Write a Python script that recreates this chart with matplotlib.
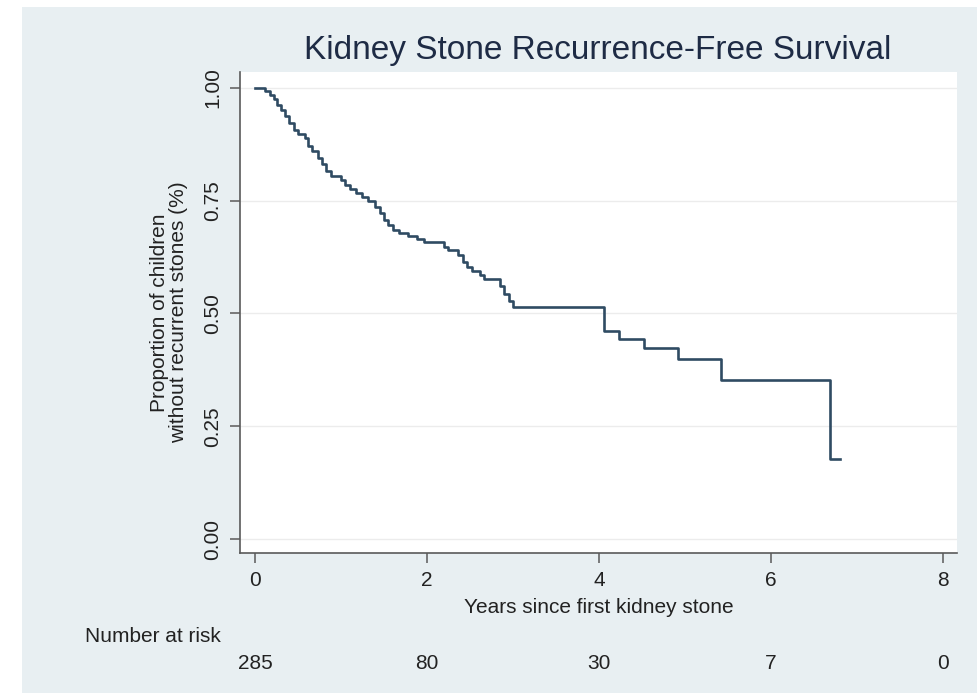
import matplotlib
matplotlib.use("Agg")
import matplotlib.pyplot as plt
from matplotlib.patches import Rectangle

# Kaplan-Meier estimate (step changes) for recurrence-free survival
years = [0.00, 0.12, 0.18, 0.22, 0.26, 0.30, 0.35, 0.40, 0.45, 0.50,
         0.58, 0.62, 0.66, 0.73, 0.78, 0.83, 0.88, 1.00, 1.05, 1.10,
         1.18, 1.25, 1.32, 1.40, 1.45, 1.50, 1.55, 1.60, 1.68, 1.78,
         1.88, 1.96, 2.20, 2.24, 2.36, 2.42, 2.47, 2.52, 2.62, 2.66,
         2.85, 2.90, 2.95, 3.00, 4.06, 4.23, 4.52, 4.92, 5.42, 6.69,
         6.80]
survival = [1.000, 0.993, 0.985, 0.975, 0.962, 0.950, 0.937, 0.922, 0.907, 0.897,
            0.889, 0.872, 0.860, 0.845, 0.830, 0.815, 0.805, 0.795, 0.785, 0.776,
            0.767, 0.758, 0.748, 0.735, 0.722, 0.708, 0.695, 0.684, 0.678, 0.671,
            0.664, 0.659, 0.648, 0.641, 0.630, 0.615, 0.603, 0.594, 0.584, 0.576,
            0.560, 0.543, 0.528, 0.514, 0.461, 0.443, 0.423, 0.399, 0.353, 0.177,
            0.177]

risk_years = [0, 2, 4, 6, 8]
at_risk = [285, 80, 30, 7, 0]
y_ticks = [0.00, 0.25, 0.50, 0.75, 1.00]

W, H = 978, 698
plt.rcParams["font.family"] = ["Liberation Sans", "DejaVu Sans"]

fig = plt.figure(figsize=(W / 100, H / 100), dpi=100, facecolor="white")
# light outer panel, Stata s2color style
fig.add_artist(Rectangle((22 / W, 1 - 693 / H), (W - 22) / W, (693 - 7) / H,
                         transform=fig.transFigure, facecolor="#e8eff2",
                         edgecolor="none", zorder=-10))

ax = fig.add_axes([240 / W, 1 - 553 / H, (957 - 240) / W, (553 - 72) / H])
ax.set_zorder(1)
ax.set_facecolor("white")
ax.step(years, survival, where="post", color="#2f4b63", lw=1.9)

ax.set_xlim(-0.174, 8.163)
ax.set_ylim(-0.031, 1.035)
ax.set_xticks(risk_years)
ax.set_yticks(y_ticks)
ax.set_yticklabels(["%.2f" % v for v in y_ticks], rotation=90, va="center")
ax.grid(axis="y", color="#ececec", lw=1.0)
ax.set_axisbelow(True)
for s in ("top", "right"):
    ax.spines[s].set_visible(False)
for s in ("left", "bottom"):
    ax.spines[s].set_color("#5a5a5a")
    ax.spines[s].set_linewidth(1.2)
ax.tick_params(colors="#5a5a5a", labelcolor="#222222", length=7, width=1.1,
               labelsize=15, pad=6)

ax.set_xlabel("Years since first kidney stone", fontsize=15, color="#222222",
              va="center")
ax.xaxis.set_label_coords(0.5, -0.114)
ax.set_ylabel("Proportion of children\nwithout recurrent stones (%)", fontsize=15,
              color="#222222", va="center", linespacing=0.95)
ax.yaxis.set_label_coords(-0.099, 0.5)

fig.text(598 / W, 1 - 50 / H, "Kidney Stone Recurrence-Free Survival",
         fontsize=24, color="#1e2b45", ha="center", va="center")

# number-at-risk table under the axis
fig.text(221 / W, 1 - 637 / H, "Number at risk", fontsize=15, color="#222222",
         ha="right", va="center")
for x, n in zip(risk_years, at_risk):
    ax.text(x, -0.229, str(n), transform=ax.get_xaxis_transform(),
            fontsize=15, color="#222222", ha="center", va="center")

fig.savefig("out.png", dpi=100, facecolor="white")
